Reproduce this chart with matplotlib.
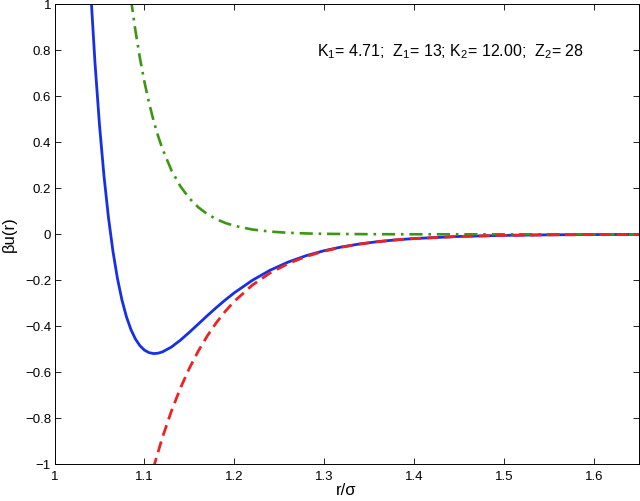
import matplotlib
matplotlib.use("Agg")
import matplotlib.pyplot as plt
from matplotlib.ticker import FixedLocator, FuncFormatter

plt.rcParams['font.family'] = ['Liberation Sans', 'DejaVu Sans']
plt.rcParams['mathtext.default'] = 'regular'

# total potential (blue solid)
r_total = [1.04, 1.045, 1.05, 1.055, 1.06, 1.065, 1.07, 1.075, 1.08, 1.085, 1.09, 1.095,
           1.10, 1.105, 1.11, 1.115, 1.12, 1.13, 1.14, 1.15, 1.16, 1.17, 1.18, 1.19, 1.20,
           1.22, 1.24, 1.26, 1.28, 1.30, 1.32, 1.34, 1.36, 1.38, 1.40, 1.45, 1.50, 1.55,
           1.60, 1.65]
u_total = [1.0723, 0.7462, 0.4765, 0.2545, 0.0730, -0.0740, -0.1921, -0.2856, -0.3585,
           -0.4142, -0.4553, -0.4844, -0.5035, -0.5143, -0.5186, -0.5172, -0.5115, -0.4903,
           -0.4606, -0.4262, -0.3901, -0.3537, -0.3187, -0.2855, -0.2545, -0.2003, -0.1560,
           -0.1207, -0.0929, -0.0713, -0.0546, -0.0417, -0.0318, -0.0242, -0.0185, -0.0094,
           -0.0047, -0.0024, -0.0012, -0.0006]

# attractive part (red dashed)
r_attr = [1.10, 1.105, 1.11, 1.12, 1.13, 1.14, 1.15, 1.16, 1.17, 1.18, 1.19, 1.20, 1.22,
          1.24, 1.26, 1.28, 1.30, 1.32, 1.34, 1.36, 1.38, 1.40, 1.45, 1.50, 1.55, 1.60, 1.65]
u_attr = [-1.1669, -1.0885, -1.0155, -0.8837, -0.7691, -0.6694, -0.5827, -0.5073, -0.4416,
          -0.3845, -0.3348, -0.2915, -0.2211, -0.1677, -0.1273, -0.0966, -0.0733, -0.0557,
          -0.0423, -0.0321, -0.0244, -0.0186, -0.0094, -0.0047, -0.0024, -0.0012, -0.0006]

# repulsive part (green dash-dot)
r_rep = [1.08, 1.085, 1.09, 1.095, 1.10, 1.105, 1.11, 1.115, 1.12, 1.13, 1.14, 1.15, 1.16,
         1.17, 1.18, 1.19, 1.20, 1.22, 1.24, 1.26, 1.28, 1.30, 1.35, 1.40, 1.50, 1.65]
u_rep = [1.1829, 1.0236, 0.8858, 0.7666, 0.6634, 0.5742, 0.4969, 0.4301, 0.3722, 0.2788,
         0.2088, 0.1565, 0.1172, 0.0879, 0.0658, 0.0493, 0.0370, 0.0208, 0.0117, 0.0066,
         0.0037, 0.0020, 0.0005, 0.0001, 0.0, 0.0]

x_ticks = [1.0, 1.1, 1.2, 1.3, 1.4, 1.5, 1.6]
y_ticks = [-1.0, -0.8, -0.6, -0.4, -0.2, 0.0, 0.2, 0.4, 0.6, 0.8, 1.0]
annotation = "K$_1$= 4.71;  Z$_1$= 13; K$_2$= 12.00;  Z$_2$= 28"

fig = plt.figure(figsize=(6.4, 5.01), dpi=100)
ax = fig.add_axes([0.0852, 0.0733, 0.9128, 0.9181])

ax.plot(r_total, u_total, color='#1530e6', lw=2.0, solid_capstyle='round')
ax.plot(r_rep, u_rep, color='#3c9614', lw=1.9, dashes=(5, 2.2, 1, 2.2))
ax.plot(r_attr, u_attr, color='#ee2222', lw=2.0, dashes=(4, 2.2))

ax.set_xlim(1.0, 1.65)
ax.set_ylim(-1.0, 1.0)
ax.xaxis.set_major_locator(FixedLocator(x_ticks))
ax.yaxis.set_major_locator(FixedLocator(y_ticks))

def fmt(v, pos):
    s = ('%g' % round(v, 2))
    return s.replace('-', '\u2212')

ax.xaxis.set_major_formatter(FuncFormatter(fmt))
ax.yaxis.set_major_formatter(FuncFormatter(fmt))
ax.tick_params(direction='in', length=4, width=0.6, labelsize=9.5, top=True, right=True)
ax.tick_params(axis='y', pad=2.5)
ax.tick_params(axis='x', pad=5)
for sp in ax.spines.values():
    sp.set_linewidth(0.7)

ax.set_xlabel('r/\u03c3', fontsize=12, labelpad=0)
ax.set_ylabel('\u03b2u(r)', fontsize=12, labelpad=6)
ax.text(1.2918, 0.793, annotation, fontsize=11.5, va='center', ha='left')

fig.savefig('out.png', dpi=100)
